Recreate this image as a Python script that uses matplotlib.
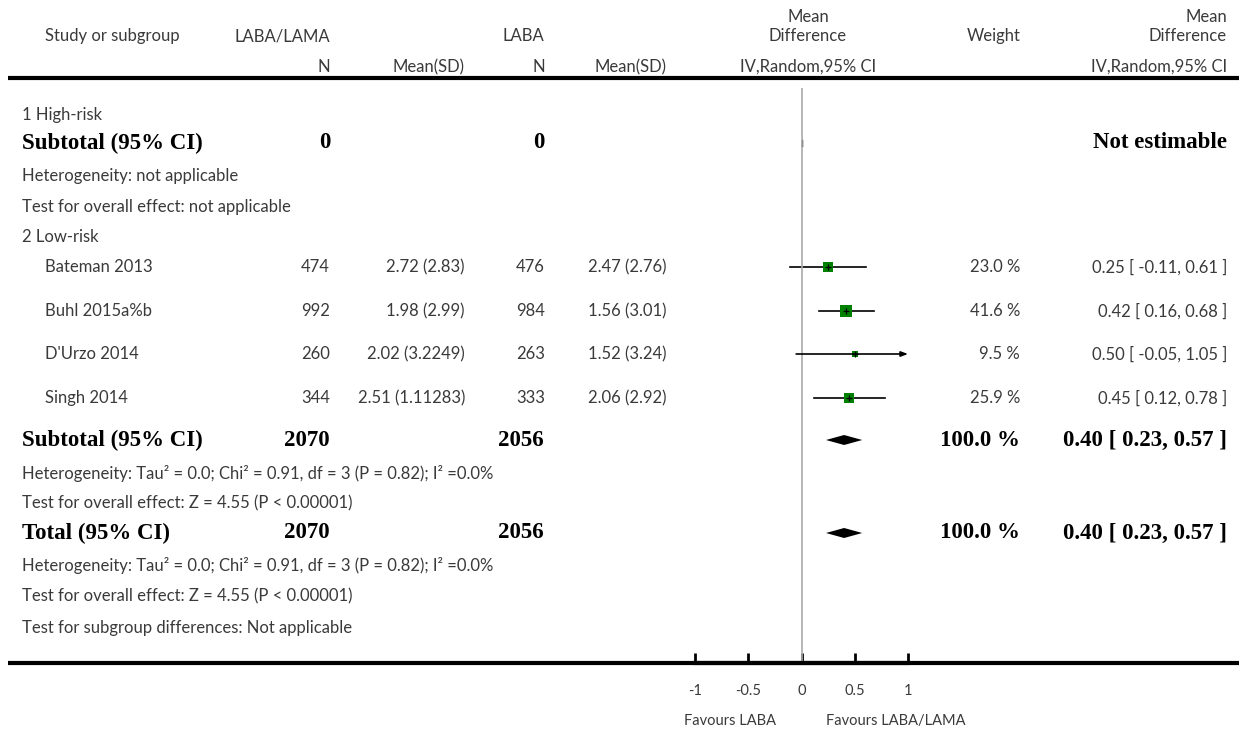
import matplotlib.pyplot as plt

# ----------------------------
# Data
# ----------------------------

studies = ["Bateman 2013", "Buhl 2015a%b", "D'Urzo 2014", "Singh 2014"]
n_combo = [474, 992, 260, 344]
mean_combo = [2.72, 1.98, 2.02, 2.51]
sd_combo = [2.83, 2.99, 3.2249, 1.11283]
n_laba = [476, 984, 263, 333]
mean_laba = [2.47, 1.56, 1.52, 2.06]
sd_laba = [2.76, 3.01, 3.24, 2.92]
md = [0.25, 0.42, 0.50, 0.45]
md_lo = [-0.11, 0.16, -0.05, 0.12]
md_hi = [0.61, 0.68, 1.05, 0.78]
weights = [23.0, 41.6, 9.5, 25.9]

pooled = [0.40, 0.23, 0.57]
total_combo = 2070
total_laba = 2056

xticks = [-1, -0.5, 0, 0.5, 1]
xtick_labels = ["-1", "-0.5", "0", "0.5", "1"]

# ----------------------------
# Layout (pixel units)
# ----------------------------

W, H = 1239, 732
GRAY = "#3a3a3a"
SANS = ["Lato", "DejaVu Sans"]
SERIF = ["Liberation Serif", "DejaVu Serif"]
FS = 12
FSB = 16.5

study_y = [267, 311, 354, 398]
sub1_y = 143
sub2_y = 440
total_y = 533

fig = plt.figure(figsize=(W / 100, H / 100), dpi=100)

ax = fig.add_axes([0, 0, 1, 1])
ax.set_xlim(0, W)
ax.set_ylim(H, 0)
ax.axis("off")

# forest axes, same vertical pixel units
top, bot = 88, 663
fa = fig.add_axes([695 / W, (H - bot) / H, 213 / W, (bot - top) / H])
fa.set_xlim(-1, 1)
fa.set_ylim(bot, top)
fa.patch.set_visible(False)
for s in ["top", "left", "right"]:
    fa.spines[s].set_visible(False)
fa.spines["bottom"].set_linewidth(3)
fa.set_yticks([])
fa.set_xticks(xticks)
fa.set_xticklabels(xtick_labels, family=SANS, color=GRAY, fontsize=10.5)
fa.tick_params(axis="x", direction="in", length=7, width=2, pad=15)


def txt(x, y, s, ha="left", bold=False):
    if bold:
        ax.text(x, y, s, ha=ha, va="center", family=SERIF, fontweight="bold",
                fontsize=FSB, color="black")
    else:
        ax.text(x, y, s, ha=ha, va="center", family=SANS, fontsize=FS,
                color=GRAY)


# header
txt(45, 36, "Study or subgroup")
txt(330, 36, "LABA/LAMA", ha="right")
txt(544, 36, "LABA", ha="right")
txt(808, 17, "Mean", ha="center")
txt(808, 36, "Difference", ha="center")
txt(994, 36, "Weight", ha="center")
txt(1227, 17, "Mean", ha="right")
txt(1227, 36, "Difference", ha="right")
txt(330, 67, "N", ha="right")
txt(465, 67, "Mean(SD)", ha="right")
txt(545, 67, "N", ha="right")
txt(667, 67, "Mean(SD)", ha="right")
txt(808, 67, "IV,Random,95% CI", ha="center")
txt(1227, 67, "IV,Random,95% CI", ha="right")
ax.plot([8, W], [78, 78], color="black", lw=3, solid_capstyle="butt")
ax.plot([8, W], [bot, bot], color="black", lw=3, solid_capstyle="butt")

# subgroup 1
txt(22, 115, "1 High-risk")
txt(22, sub1_y, "Subtotal (95% CI)", bold=True)
txt(330, sub1_y, "0", ha="right", bold=True)
txt(544, sub1_y, "0", ha="right", bold=True)
txt(1227, sub1_y, "Not estimable", ha="right", bold=True)
txt(22, 176, "Heterogeneity: not applicable")
txt(22, 207, "Test for overall effect: not applicable")
fa.plot([0, 0], [sub1_y - 3, sub1_y + 3], color="black", lw=1)

# subgroup 2
txt(22, 237, "2 Low-risk")
for i, name in enumerate(studies):
    y = study_y[i]
    txt(45, y, name)
    txt(330, y, str(n_combo[i]), ha="right")
    txt(465, y, f"{mean_combo[i]} ({sd_combo[i]})", ha="right")
    txt(545, y, str(n_laba[i]), ha="right")
    txt(667, y, f"{mean_laba[i]} ({sd_laba[i]})", ha="right")
    txt(1020, y, f"{weights[i]:.1f} %", ha="right")
    txt(1227, y, f"{md[i]:.2f} [ {md_lo[i]:.2f}, {md_hi[i]:.2f} ]", ha="right")

    if md_hi[i] > 1:
        fa.annotate("", xy=(1, y), xytext=(md_lo[i], y),
                    arrowprops=dict(arrowstyle="-|>,head_length=0.4,head_width=0.15",
                                    color="black", lw=1.2, shrinkA=0, shrinkB=0))
    else:
        fa.plot([md_lo[i], md_hi[i]], [y, y], color="black", lw=1.2)
    ms = 1.95 * weights[i] ** 0.5 / 1.39
    fa.plot(md[i], y, marker="s", color="#008000", ms=ms, mew=0)
    fa.plot(md[i], y, marker="+", color="black", ms=5, mew=0.9)


def diamond(y):
    m, lo, hi = pooled
    fa.fill([lo, m, hi, m], [y, y - 5, y, y + 5], color="black", lw=0)


pooled_txt = f"{pooled[0]:.2f} [ {pooled[1]:.2f}, {pooled[2]:.2f} ]"
het = "Heterogeneity: Tau² = 0.0; Chi² = 0.91, df = 3 (P = 0.82); I² =0.0%"
eff = "Test for overall effect: Z = 4.55 (P < 0.00001)"

for y, label in [(sub2_y, "Subtotal (95% CI)"), (total_y, "Total (95% CI)")]:
    txt(22, y, label, bold=True)
    txt(330, y, str(total_combo), ha="right", bold=True)
    txt(544, y, str(total_laba), ha="right", bold=True)
    txt(1020, y, "100.0 %", ha="right", bold=True)
    txt(1227, y, pooled_txt, ha="right", bold=True)
    txt(22, y + 33, het)
    txt(22, y + 63, eff)
    diamond(y)

txt(22, 628, "Test for subgroup differences: Not applicable")

# forest zero line
fa.axvline(0, color="#aaaaaa", lw=1.2)

ax.text(730, 721, "Favours LABA", ha="center", va="center", family=SANS,
        fontsize=10.5, color=GRAY)
ax.text(896, 721, "Favours LABA/LAMA", ha="center", va="center", family=SANS,
        fontsize=10.5, color=GRAY)

plt.savefig("out.png", dpi=100)
